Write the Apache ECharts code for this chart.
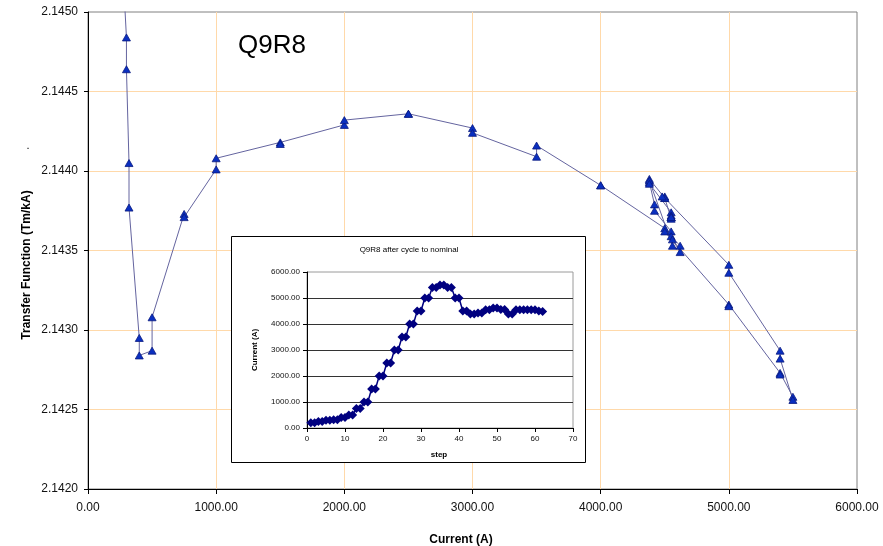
<!DOCTYPE html>
<html>
<head>
<meta charset="utf-8">
<script src="https://cdn.jsdelivr.net/npm/echarts@6/dist/echarts.min.js"></script>
<style>
  html, body { margin: 0; padding: 0; background: #ffffff; }
  #chart { width: 883px; height: 546px; }
</style>
</head>
<body>
<div id="chart"></div>
<script>
// Measurement steps of the cycle to nominal
const steps = [
  1, 2, 3, 4, 5, 6, 7, 8, 9, 10,
  11, 12, 13, 14, 15, 16, 17, 18, 19, 20,
  21, 22, 23, 24, 25, 26, 27, 28, 29, 30,
  31, 32, 33, 34, 35, 36, 37, 38, 39, 40,
  41, 42, 43, 44, 45, 46, 47, 48, 49, 50,
  51, 52, 53, 54, 55, 56, 57, 58, 59, 60,
  61, 62
];

// Magnet current at each step (A)
const currentA = [
  200, 200, 250, 250, 300, 300, 320, 320, 400, 400,
  500, 500, 750, 750, 1000, 1000, 1500, 1500, 2000, 2000,
  2500, 2500, 3000, 3000, 3500, 3500, 4000, 4000, 4500, 4500,
  5000, 5000, 5400, 5400, 5500, 5500, 5400, 5400, 5000, 5000,
  4500, 4500, 4380, 4380, 4420, 4420, 4550, 4550, 4620, 4620,
  4560, 4560, 4380, 4380, 4550, 4550, 4550, 4550, 4550, 4550,
  4500, 4480
];

// Transfer function measured at each step (Tm/kA)
const transferFn = [
  2.14620, 2.14610, 2.14570, 2.14560, 2.14484, 2.14464, 2.14405, 2.14377, 2.14295, 2.14284,
  2.14287, 2.14308, 2.14373, 2.14371, 2.14401, 2.14408, 2.14418, 2.14417, 2.14429, 2.14432,
  2.14436, 2.14436, 2.14427, 2.14424, 2.14409, 2.14416, 2.14391, 2.14391, 2.14364, 2.14362,
  2.14316, 2.14315, 2.14273, 2.14272, 2.14258, 2.14256, 2.14282, 2.14287, 2.14336, 2.14341,
  2.14383, 2.14384, 2.14395, 2.14393, 2.14379, 2.14375, 2.14362, 2.14359, 2.14353, 2.14349,
  2.14357, 2.14353, 2.14394, 2.14392, 2.14374, 2.14372, 2.14371, 2.14370, 2.14371, 2.14371,
  2.14383, 2.14384
];

const FONT = "'Liberation Sans', Arial, sans-serif";

const mainPoints = currentA.map((c, i) => [c, transferFn[i]]);
const insetPoints = steps.map((s, i) => [s, currentA[i]]);

const chart = echarts.init(document.getElementById('chart'), null, { renderer: 'canvas' });

chart.setOption({
  animation: false,
  backgroundColor: '#ffffff',
  textStyle: { fontFamily: FONT },
  grid: [
    {
      left: 88, top: 12, width: 769, height: 477,
      show: true, borderColor: '#808080', borderWidth: 1,
      backgroundColor: 'transparent', z: 0
    },
    {
      left: 307, top: 272, width: 266, height: 156,
      show: true, borderColor: '#9a9a9a', borderWidth: 1,
      backgroundColor: 'transparent', z: 55
    }
  ],
  xAxis: [
    {
      gridIndex: 0, type: 'value', min: 0, max: 6000, interval: 1000,
      axisLine: { show: true, onZero: false, lineStyle: { color: '#000000', width: 1 } },
      axisTick: { show: true, inside: false, length: 5, lineStyle: { color: '#000000' } },
      axisLabel: {
        color: '#111111', fontSize: 12, fontFamily: FONT, margin: 13,
        formatter: v => v.toFixed(2)
      },
      splitLine: { show: true, showMinLine: false, showMaxLine: false, lineStyle: { color: '#ffd9aa', width: 1 } }
    },
    {
      gridIndex: 1, type: 'value', min: 0, max: 70, interval: 10, z: 60,
      axisLine: { show: true, onZero: false, lineStyle: { color: '#000000', width: 1 } },
      axisTick: { show: true, inside: false, length: 4, lineStyle: { color: '#000000' } },
      axisLabel: { color: '#111111', fontSize: 8, fontFamily: FONT, margin: 7 },
      splitLine: { show: false }
    }
  ],
  yAxis: [
    {
      gridIndex: 0, type: 'value', min: 2.142, max: 2.145, interval: 0.0005,
      axisLine: { show: true, onZero: false, lineStyle: { color: '#000000', width: 1 } },
      axisTick: { show: true, inside: false, length: 4, lineStyle: { color: '#000000' } },
      axisLabel: {
        color: '#111111', fontSize: 12, fontFamily: FONT, margin: 10,
        formatter: v => v.toFixed(4)
      },
      splitLine: { show: true, showMinLine: false, showMaxLine: false, lineStyle: { color: '#ffd9aa', width: 1 } }
    },
    {
      gridIndex: 1, type: 'value', min: 0, max: 6000, interval: 1000, z: 60,
      axisLine: { show: true, onZero: false, lineStyle: { color: '#000000', width: 1 } },
      axisTick: { show: true, inside: false, length: 4, lineStyle: { color: '#000000' } },
      axisLabel: {
        color: '#111111', fontSize: 8, fontFamily: FONT, margin: 7,
        formatter: v => v.toFixed(2)
      },
      splitLine: { show: true, showMaxLine: false, lineStyle: { color: '#333333', width: 1 } }
    }
  ],
  series: [
    {
      name: 'Q9R8',
      type: 'line',
      xAxisIndex: 0, yAxisIndex: 0,
      data: mainPoints,
      clip: true,
      symbol: 'triangle',
      symbolSize: [8, 7],
      itemStyle: { color: '#0a2fc0', borderColor: '#0a1a80', borderWidth: 0.8 },
      lineStyle: { color: '#64649f', width: 1 },
      z: 2
    },
    {
      name: 'Q9R8 after cycle to nominal',
      type: 'line',
      xAxisIndex: 1, yAxisIndex: 1,
      data: insetPoints,
      symbol: 'diamond',
      symbolSize: 9,
      itemStyle: { color: '#000080' },
      lineStyle: { color: '#000080', width: 1.5 },
      z: 70
    }
  ],
  graphic: {
    elements: [
      {
        type: 'rect', z: 50,
        shape: { x: 231.5, y: 236.5, width: 354, height: 226 },
        style: { fill: '#ffffff', stroke: '#000000', lineWidth: 1 }
      },
      {
        type: 'text', z: 80, x: 238, y: 46,
        style: {
          text: 'Q9R8', font: '26px ' + FONT, fill: '#000000',
          textAlign: 'left', textVerticalAlign: 'middle'
        }
      },
      {
        type: 'text', z: 80, x: 27, y: 265, rotation: Math.PI / 2,
        style: {
          text: 'Transfer Function (Tm/kA)', font: 'bold 12px ' + FONT, fill: '#000000',
          textAlign: 'center', textVerticalAlign: 'middle'
        }
      },
      {
        type: 'text', z: 80, x: 28, y: 146,
        style: {
          text: '.', font: '11px ' + FONT, fill: '#000000',
          textAlign: 'center', textVerticalAlign: 'middle'
        }
      },
      {
        type: 'text', z: 80, x: 461, y: 540,
        style: {
          text: 'Current (A)', font: 'bold 12px ' + FONT, fill: '#000000',
          textAlign: 'center', textVerticalAlign: 'middle'
        }
      },
      {
        type: 'text', z: 80, x: 409, y: 250,
        style: {
          text: 'Q9R8 after cycle to nominal', font: '8px ' + FONT, fill: '#000000',
          textAlign: 'center', textVerticalAlign: 'middle'
        }
      },
      {
        type: 'text', z: 80, x: 255, y: 350, rotation: Math.PI / 2,
        style: {
          text: 'Current (A)', font: 'bold 8px ' + FONT, fill: '#000000',
          textAlign: 'center', textVerticalAlign: 'middle'
        }
      },
      {
        type: 'text', z: 80, x: 439, y: 455,
        style: {
          text: 'step', font: 'bold 8px ' + FONT, fill: '#000000',
          textAlign: 'center', textVerticalAlign: 'middle'
        }
      }
    ]
  }
});
</script>
</body>
</html>
